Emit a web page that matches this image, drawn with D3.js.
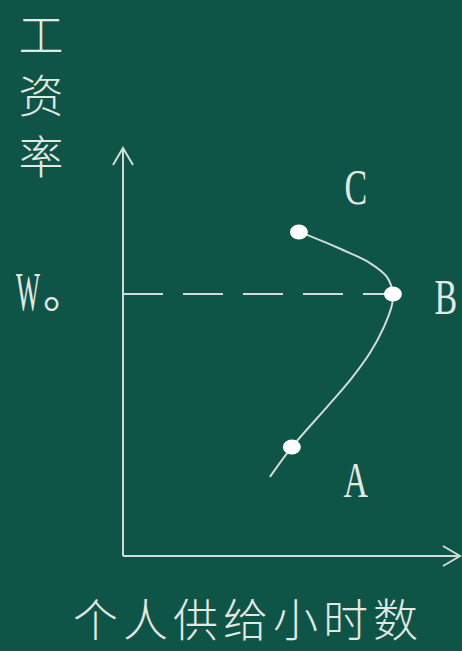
<!DOCTYPE html>
<html>
<head>
<meta charset="utf-8">
<script src="https://cdn.jsdelivr.net/npm/d3@7"></script>
<style>
  html, body { margin: 0; padding: 0; background: #0e5548; }
  svg { display: block; }
</style>
</head>
<body>
<div id="chart"></div>
<script>
/* data: backward-bending labour supply */
var hours = [4.36, 5.01, 6.05, 6.74, 7.33, 7.74, 7.98, 8.01, 7.83, 7.33, 6.53, 5.55, 5.22];
var wages = [1.94, 2.67, 3.65, 4.31, 4.98, 5.61, 6.15, 6.42, 6.84, 7.18, 7.50, 7.84, 7.94];
var pointLabels = ["A", "B", "C"];
var pointIndex = [1, 7, 12];
var yTitle = ["工", "资", "率"];
var xTitle = "个人供给小时数";

var width = 462, height = 651;
var ink = "#e4e8e2";
var lineInk = "#d2dcd6";

var svg = d3.select("#chart").append("svg")
  .attr("width", width)
  .attr("height", height);

var x = d3.scaleLinear().domain([0, 10]).range([123, 460]);
var y = d3.scaleLinear().domain([0, 10]).range([556, 148]);

// axes with arrow heads
var axisGroup = svg.append("g")
  .attr("fill", "none")
  .attr("stroke", lineInk)
  .attr("stroke-width", 2);

axisGroup.append("path")
  .attr("d", d3.line()([[x(0), y(0)], [x(0), y(10)]]));
axisGroup.append("path")
  .attr("d", d3.line()([[x(0) - 10, y(10) + 17], [x(0), y(10)], [x(0) + 10, y(10) + 17]]));
axisGroup.append("path")
  .attr("d", d3.line()([[x(0), y(0)], [x(10), y(0)]]));
axisGroup.append("path")
  .attr("d", d3.line()([[x(10) - 17, y(0) - 10], [x(10), y(0)], [x(10) - 17, y(0) + 10]]));

var pts = hours.map(function (h, i) { return [h, wages[i]]; });
var bIdx = pointIndex[1];

// dashed line from the wage axis to B
svg.append("path")
  .attr("d", d3.line()([[x(0), y(wages[bIdx])], [x(hours[bIdx]), y(wages[bIdx])]]))
  .attr("fill", "none")
  .attr("stroke", lineInk)
  .attr("stroke-width", 2)
  .attr("stroke-dasharray", "40,20");

// the curve
var curve = d3.line()
  .x(function (d) { return x(d[0]); })
  .y(function (d) { return y(d[1]); })
  .curve(d3.curveCatmullRom.alpha(0.5));

svg.append("path")
  .datum(pts)
  .attr("d", curve)
  .attr("fill", "none")
  .attr("stroke", lineInk)
  .attr("stroke-width", 2);

// marked points
svg.selectAll(".dot")
  .data(pointIndex)
  .enter().append("ellipse")
  .attr("class", "dot")
  .attr("cx", function (i) { return x(hours[i]); })
  .attr("cy", function (i) { return y(wages[i]); })
  .attr("rx", 9)
  .attr("ry", 7.5)
  .attr("fill", "#ffffff");

// letters next to points (offsets in pixels)
var labelOffset = [[64, 50], [53, 20], [57, -28]];
svg.selectAll(".ptLabel")
  .data(pointIndex)
  .enter().append("text")
  .attr("class", "ptLabel")
  .attr("transform", function (i, k) {
    return "translate(" + (x(hours[i]) + labelOffset[k][0]) + "," + (y(wages[i]) + labelOffset[k][1]) + ") scale(0.68,1)";
  })
  .attr("text-anchor", "middle")
  .attr("font-family", "Liberation Serif, serif")
  .attr("font-size", 50)
  .attr("fill", ink)
  .text(function (i, k) { return pointLabels[k]; });

// W。 on the wage axis
svg.append("text")
  .attr("transform", "translate(28," + (y(wages[bIdx]) + 16) + ") scale(0.47,1)")
  .attr("text-anchor", "middle")
  .attr("font-family", "Liberation Serif, serif")
  .attr("font-size", 54)
  .attr("fill", ink)
  .text("W");
svg.append("text")
  .attr("x", 43)
  .attr("y", y(wages[bIdx]) + 14)
  .attr("font-family", "Noto Sans CJK SC")
  .attr("font-size", 44)
  .attr("fill", ink)
  .text("。");

// vertical title
svg.selectAll(".yTitle")
  .data(yTitle)
  .enter().append("text")
  .attr("class", "yTitle")
  .attr("x", 41)
  .attr("y", function (d, i) { return 32 + i * 61; })
  .attr("text-anchor", "middle")
  .attr("dominant-baseline", "central")
  .attr("font-family", "Noto Sans CJK SC")
  .attr("font-weight", 300)
  .attr("font-size", 45)
  .attr("fill", ink)
  .text(function (d) { return d; });

// bottom title
svg.append("text")
  .attr("x", 248)
  .attr("y", 617)
  .attr("text-anchor", "middle")
  .attr("dominant-baseline", "central")
  .attr("font-family", "Noto Sans CJK SC")
  .attr("font-weight", 300)
  .attr("font-size", 45)
  .attr("letter-spacing", 5)
  .attr("fill", ink)
  .text(xTitle);
</script>
</body>
</html>
